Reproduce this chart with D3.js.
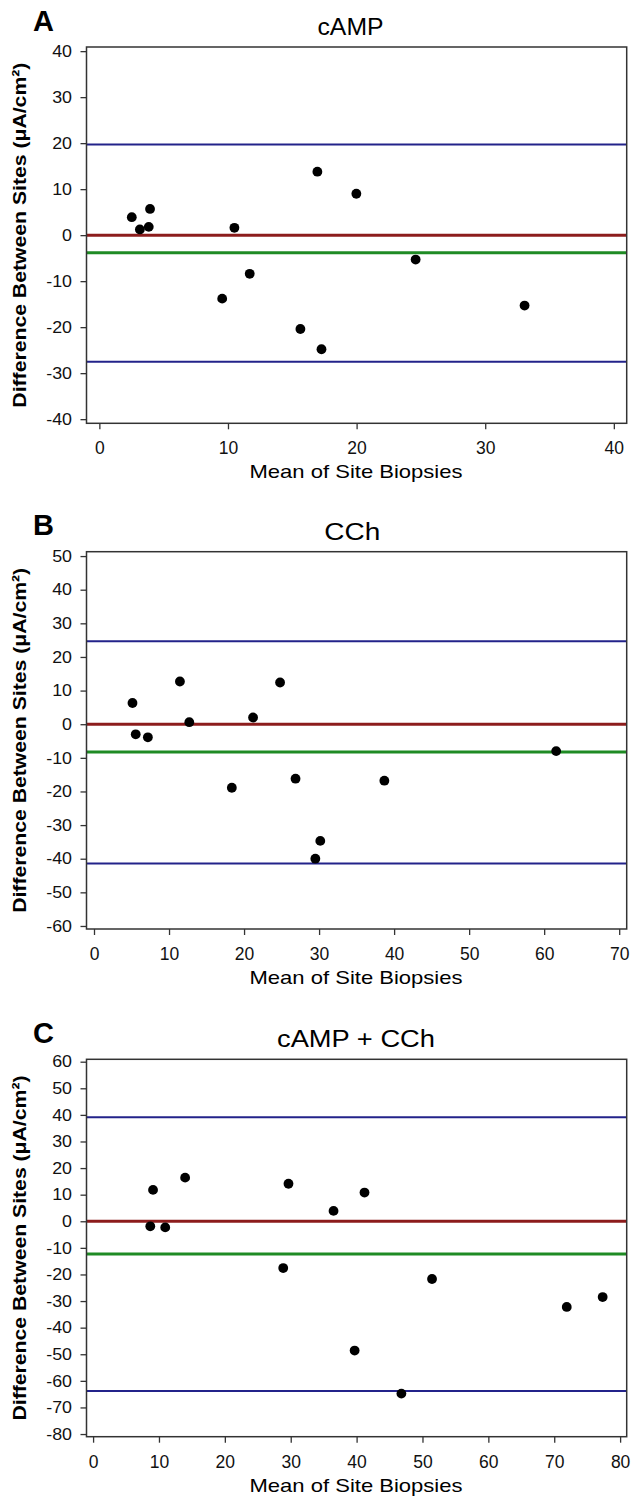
<!DOCTYPE html>
<html><head><meta charset="utf-8">
<script src="https://cdn.jsdelivr.net/npm/d3@7"></script>
<style>body{margin:0;background:#fff} svg{display:block}</style>
</head><body>
<svg id="chart" width="636" height="1503"></svg>
<script>
// ---------- data ----------
const panelLetters = ["A", "B", "C"];
const panelTitles = ["cAMP", "CCh", "cAMP + CCh"];
const xLabel = "Mean of Site Biopsies";
const yLabel = "Difference Between Sites (\u03BCA/cm\u00B2)";

const campMean = [2.52, 3.15, 3.84, 3.94, 10.5, 16.95, 19.98, 9.55, 11.69, 15.63, 17.27, 24.59, 33.06];
const campDiff = [3.9, 1.24, 1.8, 5.7, 1.6, 13.8, 9.0, -13.8, -8.4, -20.4, -24.8, -5.3, -15.3];
const cchMean = [5.13, 11.45, 12.7, 21.2, 24.8, 5.56, 7.18, 18.37, 26.86, 30.16, 29.5, 38.7, 61.6];
const cchDiff = [6.3, 12.7, 0.6, 2.0, 12.4, -3.0, -3.9, -18.9, -16.2, -34.7, -40.0, -16.8, -8.0];
const bothMean = [9.1, 13.97, 8.68, 10.95, 29.66, 36.5, 41.2, 28.86, 39.7, 46.8, 51.45, 71.9, 77.35];
const bothDiff = [11.8, 16.4, -1.9, -2.3, 14.1, 3.9, 10.8, -17.6, -48.6, -64.8, -21.7, -32.2, -28.5];

// upper limit, mean difference, lower limit
const campLimits = [19.7, -3.84, -27.5];
const cchLimits = [24.7, -8.3, -41.4];
const bothLimits = [39.1, -12.3, -63.8];
const zeroLine = 0;

const campXTicks = [0, 10, 20, 30, 40];
const campYTicks = [-40, -30, -20, -10, 0, 10, 20, 30, 40];
const cchXTicks = [0, 10, 20, 30, 40, 50, 60, 70];
const cchYTicks = [-60, -50, -40, -30, -20, -10, 0, 10, 20, 30, 40, 50];
const bothXTicks = [0, 10, 20, 30, 40, 50, 60, 70, 80];
const bothYTicks = [-80, -70, -60, -50, -40, -30, -20, -10, 0, 10, 20, 30, 40, 50, 60];

// ---------- layout ----------
const frameLeft = 86.5, frameRight = 626.7;
const panels = [
  {mean: campMean, diff: campDiff, limits: campLimits, xt: campXTicks, yt: campYTicks,
   top: 47, bottom: 423.3, xDom: [-1, 41], yDom: [-40.9, 40.9], titleX: 350.5, titleLen: 66},
  {mean: cchMean, diff: cchDiff, limits: cchLimits, xt: cchXTicks, yt: cchYTicks,
   top: 551.7, bottom: 929, xDom: [-1, 71], yDom: [-60.9, 51.3], titleX: 352.3, titleLen: 56},
  {mean: bothMean, diff: bothDiff, limits: bothLimits, xt: bothXTicks, yt: bothYTicks,
   top: 1059.3, bottom: 1436.7, xDom: [-1, 81], yDom: [-81, 60.9], titleX: 356, titleLen: 158}
];

const svg = d3.select("#chart");
const FONT = "'Liberation Sans', Arial, Helvetica, sans-serif";
const BLUE = "#23238a", RED = "#8c1c1c", GREEN = "#1f8b24", AX = "#333";

function stretch(sel, k) {
  sel.each(function () {
    const l = this.getComputedTextLength();
    this.setAttribute("textLength", l * k);
    this.setAttribute("lengthAdjust", "spacingAndGlyphs");
  });
}

panels.forEach((p, i) => {
  const x = d3.scaleLinear().domain(p.xDom).range([frameLeft, frameRight]);
  const y = d3.scaleLinear().domain(p.yDom).range([p.bottom, p.top]);
  const g = svg.append("g");

  // panel letter
  g.append("text").attr("x", 33).attr("y", p.top - 16.5)
    .attr("font-family", FONT).attr("font-weight", "bold").attr("font-size", 29)
    .attr("fill", "#000").text(panelLetters[i]);

  // title
  g.append("text").attr("x", p.titleX).attr("y", p.top - 12)
    .attr("text-anchor", "middle").attr("font-family", FONT).attr("font-size", 23)
    .attr("fill", "#000").attr("textLength", p.titleLen).attr("lengthAdjust", "spacingAndGlyphs")
    .text(panelTitles[i]);

  // reference lines
  const lines = [
    {v: p.limits[0], c: BLUE, w: 2},
    {v: p.limits[2], c: BLUE, w: 2},
    {v: zeroLine, c: RED, w: 3},
    {v: p.limits[1], c: GREEN, w: 3}
  ];
  g.selectAll("line.ref").data(lines).join("line").attr("class", "ref")
    .attr("x1", frameLeft).attr("x2", frameRight)
    .attr("y1", d => y(d.v)).attr("y2", d => y(d.v))
    .attr("stroke", d => d.c).attr("stroke-width", d => d.w);

  // points
  g.selectAll("circle").data(p.mean.map((m, j) => [m, p.diff[j]])).join("circle")
    .attr("cx", d => x(d[0])).attr("cy", d => y(d[1])).attr("r", 4.9).attr("fill", "#000");

  // frame
  g.append("rect").attr("x", frameLeft).attr("y", p.top)
    .attr("width", frameRight - frameLeft).attr("height", p.bottom - p.top)
    .attr("fill", "none").attr("stroke", AX).attr("stroke-width", 1.5);

  // y axis
  const ya = g.append("g").attr("transform", `translate(${frameLeft},0)`)
    .call(d3.axisLeft(y).tickValues(p.yt).tickSize(6).tickPadding(8.5).tickFormat(d => String(d)));
  ya.select(".domain").remove();
  ya.selectAll("line").attr("stroke", AX).attr("stroke-width", 1.3);
  ya.selectAll("text").attr("font-family", FONT).attr("font-size", 16.5).attr("fill", "#111");
  stretch(ya.selectAll("text"), 1.08);

  // x axis
  const xa = g.append("g").attr("transform", `translate(0,${p.bottom})`)
    .call(d3.axisBottom(x).tickValues(p.xt).tickSize(6).tickPadding(12.5).tickFormat(d => String(d)));
  xa.select(".domain").remove();
  xa.selectAll("line").attr("stroke", AX).attr("stroke-width", 1.3);
  xa.selectAll("text").attr("font-family", FONT).attr("font-size", 17.5).attr("fill", "#111");

  // x label
  g.append("text").attr("x", 356).attr("y", p.bottom + 55)
    .attr("text-anchor", "middle").attr("font-family", FONT).attr("font-size", 19)
    .attr("fill", "#000").attr("textLength", 213).attr("lengthAdjust", "spacingAndGlyphs")
    .text(xLabel);

  // y label
  const cy = (p.top + p.bottom) / 2;
  g.append("text").attr("transform", `translate(25.5,${cy}) rotate(-90)`)
    .attr("text-anchor", "middle").attr("font-family", FONT).attr("font-size", 18.5)
    .attr("font-weight", "bold").attr("fill", "#000")
    .attr("textLength", 345).attr("lengthAdjust", "spacingAndGlyphs")
    .text(yLabel);
});
</script>
</body></html>
